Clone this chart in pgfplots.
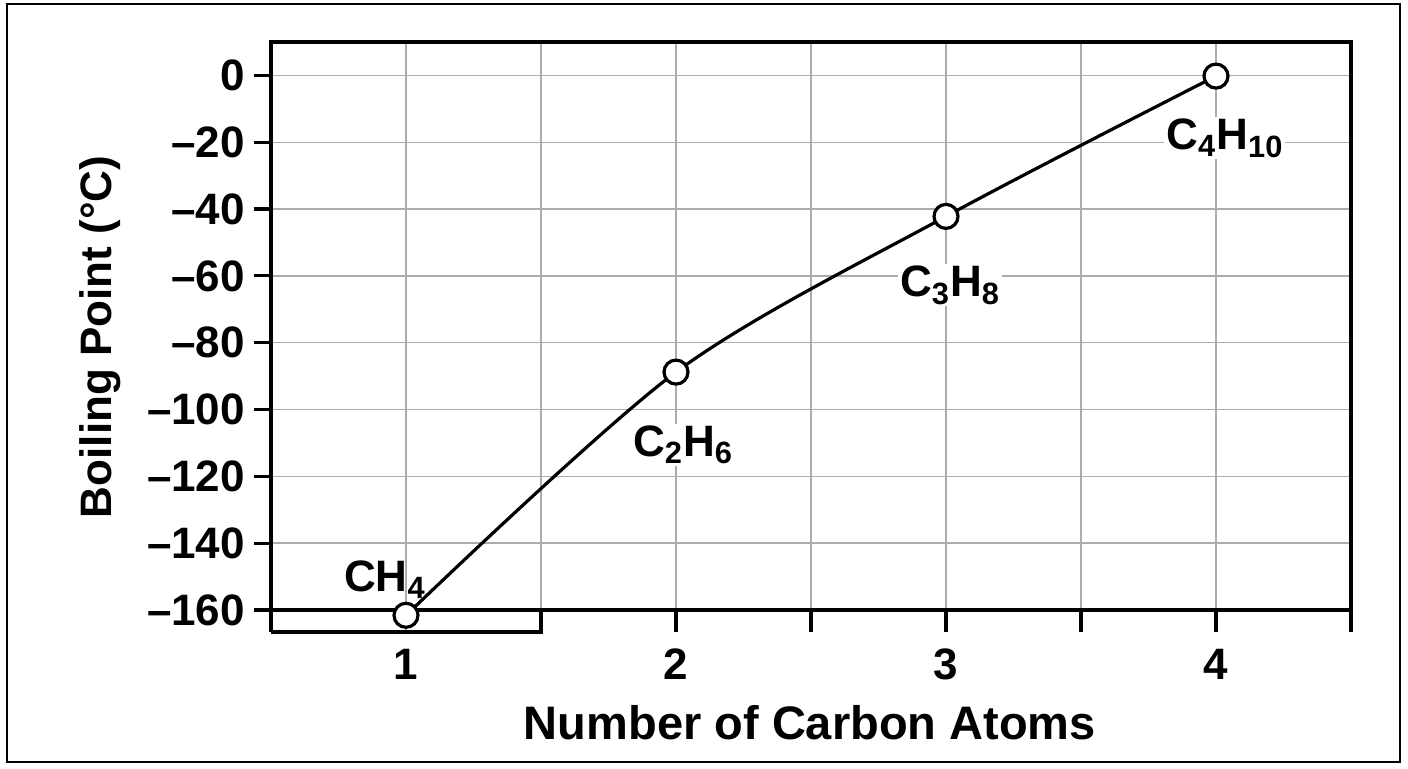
\documentclass[border=0pt]{standalone}
\usepackage{pgfplots}
\pgfplotsset{compat=1.18}
\usepackage{fontspec}
\setmainfont{Liberation Sans}
\newcommand{\chartfont}{\fontsize{22}{26}\selectfont\bfseries}
\newcommand{\labelfont}{\fontsize{23.5}{28}\selectfont\bfseries}

\begin{document}
\begin{tikzpicture}
\useasboundingbox (0,0) rectangle (704pt,384pt);
\draw[line width=1.1pt] (3.5pt,3pt) rectangle (700pt,382pt);
\begin{axis}[at={(135.5pt,68pt)}, anchor=south west,
    scale only axis, width=540pt, height=295pt,
    xmin=0.5, xmax=4.5, ymin=-166.6, ymax=10,
    clip=false,
    axis line style={draw=none},
    xtick={1,2,3,4},
    xticklabels={1,2,3,4},
    minor xtick={1.5,2.5,3.5},
    ytick={-160,-140,-120,-100,-80,-60,-40,-20,0},
    yticklabels={–160,–140,–120,–100,–80,–60,–40,–20,0},
    xticklabel style={font=\chartfont, yshift=3.5pt},
    yticklabel style={font=\chartfont, xshift=-1pt},
    xtick style={draw=none},
    ytick pos=left, tick align=outside,
    major tick length=8.5pt,
    ytick style={line width=1.6pt, black},
    grid=both,
    major grid style={gray!65, line width=0.7pt},
    minor grid style={gray!65, line width=0.7pt},
    xlabel={Number of Carbon Atoms},
    ylabel={Boiling Point (°C)},
    xlabel style={font=\labelfont, at={(axis description cs:0.499,-0.153)}, anchor=center},
    ylabel style={font=\chartfont, at={(axis description cs:-0.158,0.5)}, anchor=center},
  ]
  % frame, drawn under the curve
  \draw[line width=1.8pt] (axis cs:0.5,-166.6) -- (axis cs:0.5,10) -- (axis cs:4.5,10) -- (axis cs:4.5,-166.6);
  \draw[line width=1.8pt] (axis cs:0.5,-160) -- (axis cs:4.5,-160);
  \draw[line width=1.8pt] (axis cs:0.5,-166.6) -- (axis cs:1.5,-166.6) -- (axis cs:1.5,-160);
  \draw[line width=1.6pt] (axis cs:2,-160) -- (axis cs:2,-166.6)
                          (axis cs:2.5,-160) -- (axis cs:2.5,-166.6)
                          (axis cs:3,-160) -- (axis cs:3,-166.6)
                          (axis cs:3.5,-160) -- (axis cs:3.5,-166.6)
                          (axis cs:4,-160) -- (axis cs:4,-166.6);
  % labels
  \node[font=\chartfont, inner sep=1pt] at (axis cs:0.922,-151) {CH\textsubscript{4}};
  \node[font=\chartfont, fill=white, inner sep=1pt] at (axis cs:2.026,-110.6) {C\textsubscript{2}H\textsubscript{6}};
  \node[font=\chartfont, fill=white, inner sep=1pt] at (axis cs:3.015,-62.8) {C\textsubscript{3}H\textsubscript{8}};
  \node[font=\chartfont, fill=white, inner sep=1pt] at (axis cs:4.033,-18.8) {C\textsubscript{4}H\textsubscript{10}};

  \addplot[black, line width=1.6pt, smooth,
           mark=*, mark size=6pt, mark options={fill=white, draw=black, line width=1.6pt}]
    coordinates {(1,-161.6) (2,-88.8) (3,-42.2) (4,-0.2)};
\end{axis}
\end{tikzpicture}
\end{document}
